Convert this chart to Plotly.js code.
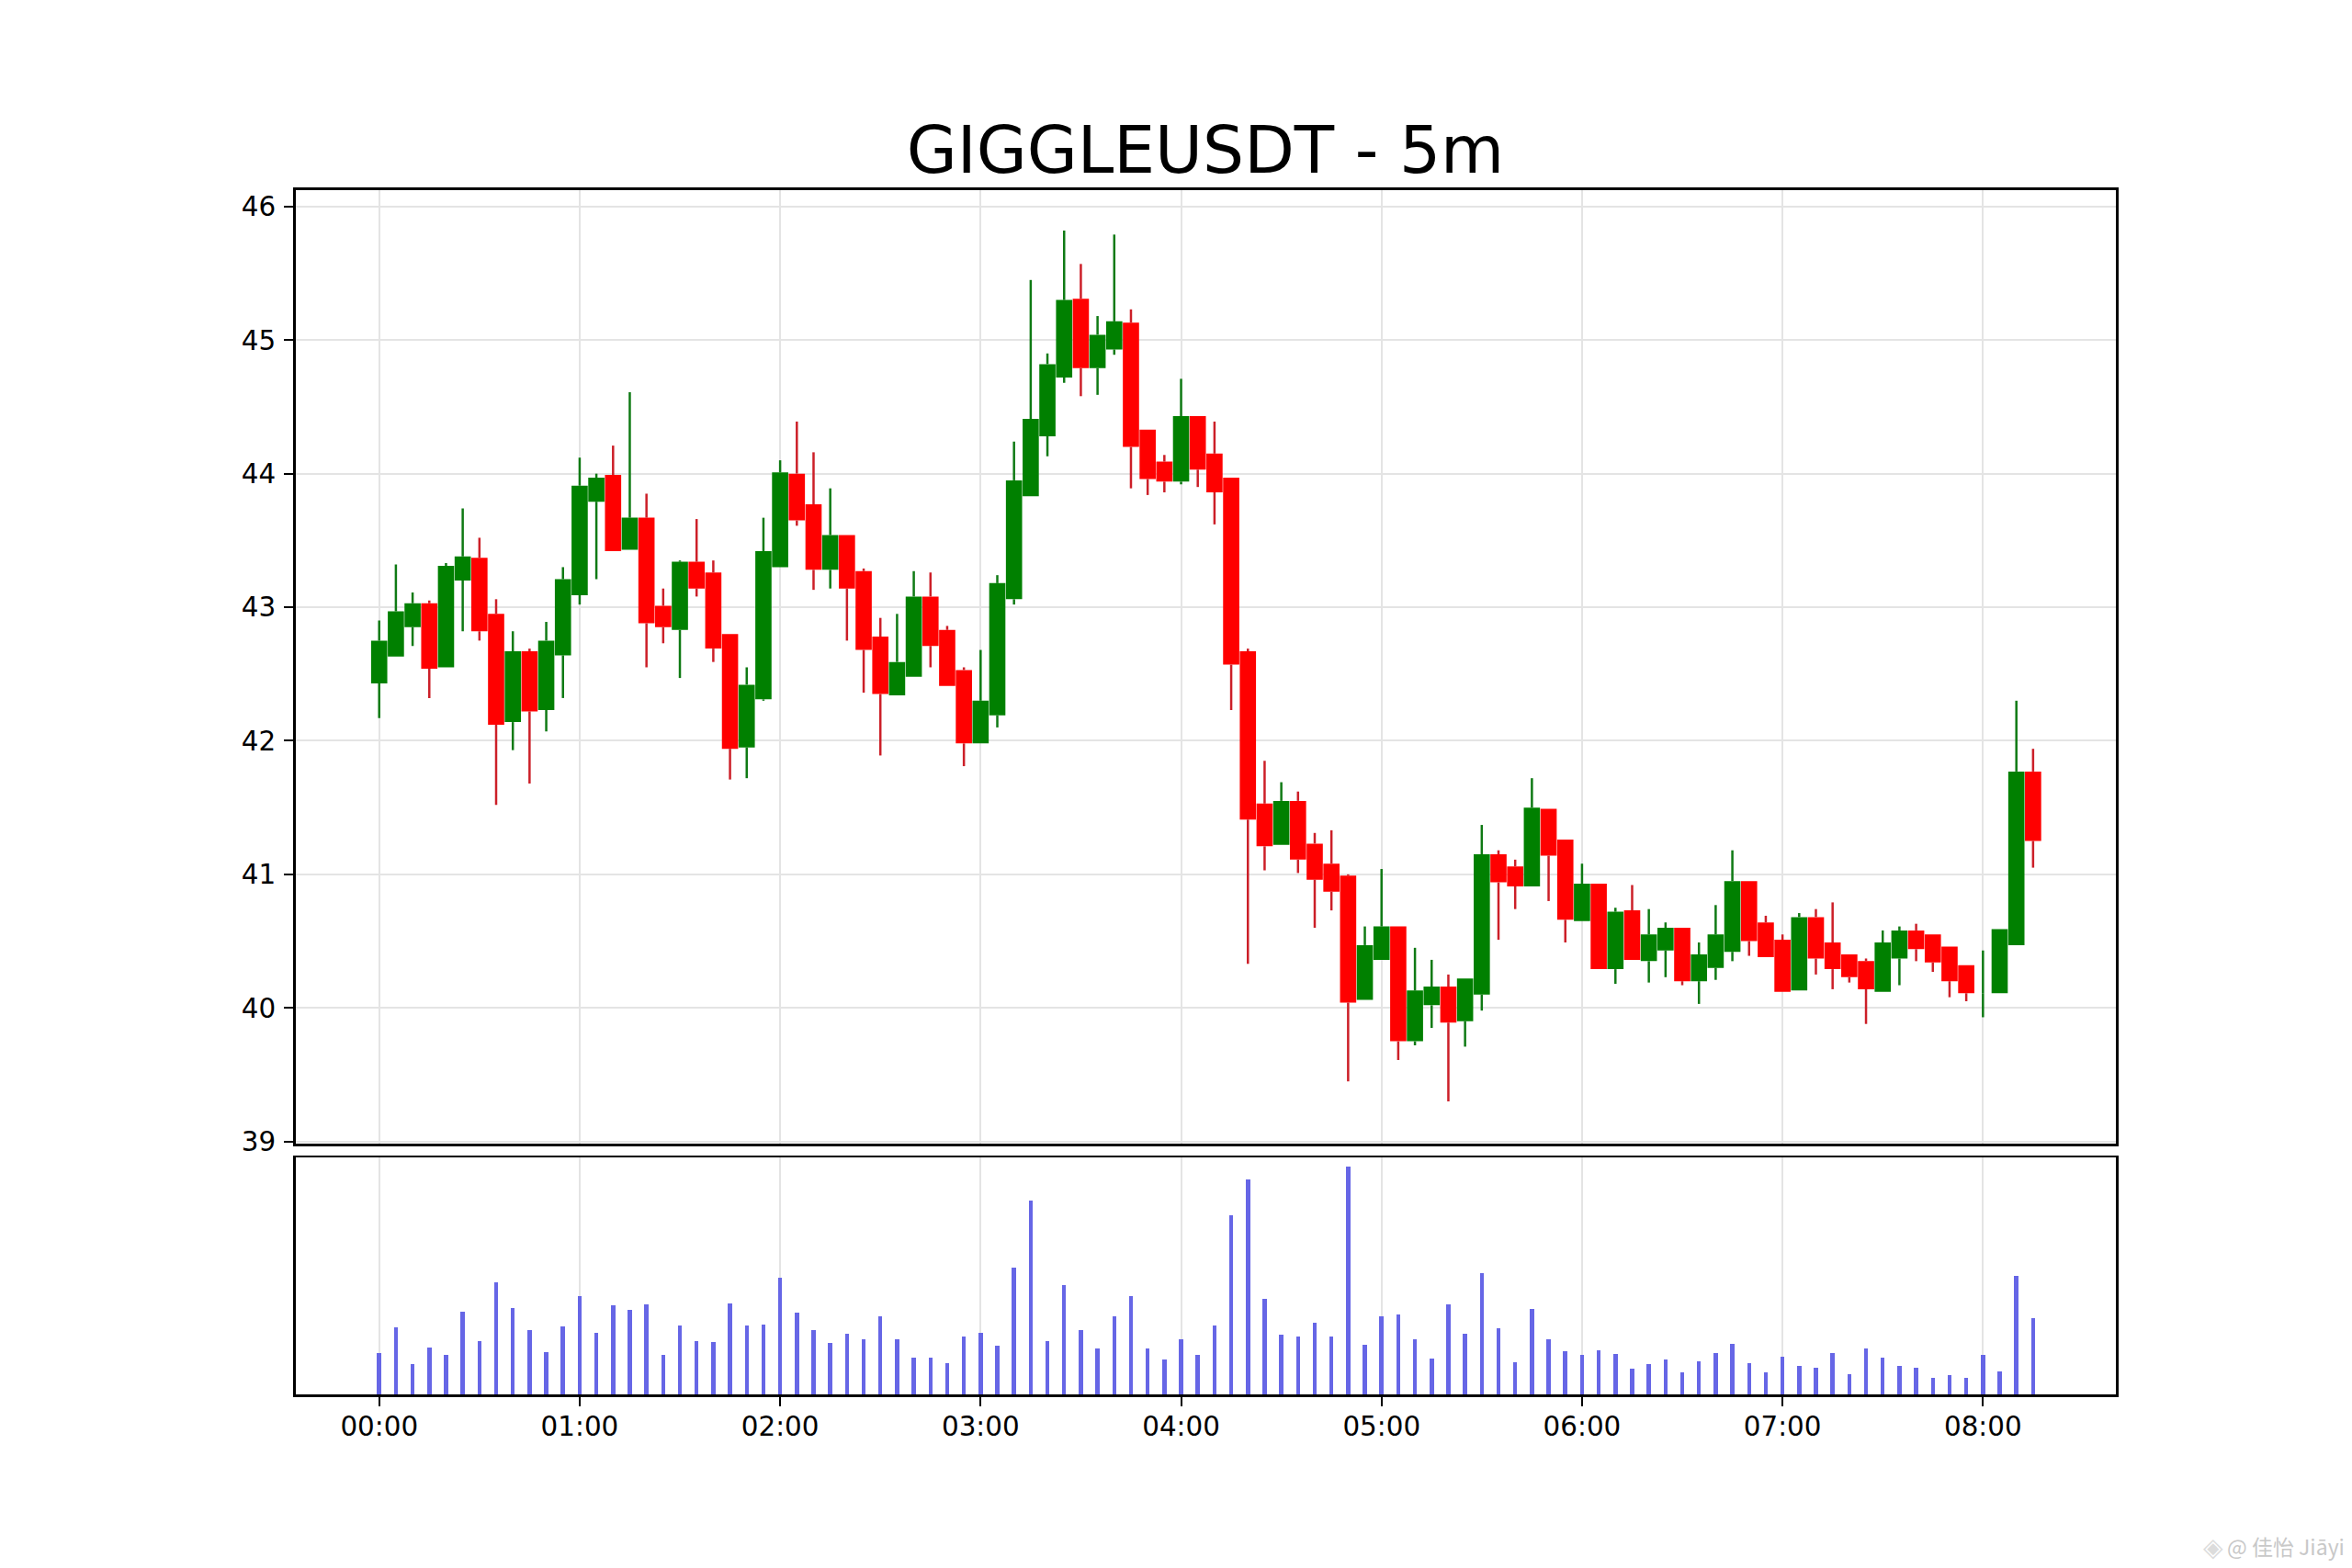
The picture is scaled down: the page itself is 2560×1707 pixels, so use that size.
<!DOCTYPE html>
<html>
<head>
<meta charset="utf-8">
<script src="https://cdn.plot.ly/plotly-3.0.1.min.js"></script>
<style>html,body{margin:0;padding:0;background:#fff}</style>
</head>
<body>
<div id="chart" style="width:2560px;height:1707px"></div>
<script>
const times = ["00:00","00:05","00:10","00:15","00:20","00:25","00:30","00:35","00:40","00:45","00:50","00:55",
"01:00","01:05","01:10","01:15","01:20","01:25","01:30","01:35","01:40","01:45","01:50","01:55",
"02:00","02:05","02:10","02:15","02:20","02:25","02:30","02:35","02:40","02:45","02:50","02:55",
"03:00","03:05","03:10","03:15","03:20","03:25","03:30","03:35","03:40","03:45","03:50","03:55",
"04:00","04:05","04:10","04:15","04:20","04:25","04:30","04:35","04:40","04:45","04:50","04:55",
"05:00","05:05","05:10","05:15","05:20","05:25","05:30","05:35","05:40","05:45","05:50","05:55",
"06:00","06:05","06:10","06:15","06:20","06:25","06:30","06:35","06:40","06:45","06:50","06:55",
"07:00","07:05","07:10","07:15","07:20","07:25","07:30","07:35","07:40","07:45","07:50","07:55",
"08:00","08:05","08:10","08:15"];
const opens = [42.43,42.63,42.85,43.03,42.55,43.20,43.37,42.95,42.14,42.67,42.23,42.64,
43.09,43.79,43.99,43.43,43.67,43.01,42.83,43.34,43.26,42.80,41.95,42.31,
43.30,44.00,43.77,43.28,43.54,43.27,42.78,42.34,42.48,43.08,42.83,42.53,
41.98,42.19,43.06,43.83,44.28,44.72,45.31,44.79,44.93,45.13,44.33,44.09,
43.94,44.43,44.15,43.97,42.67,41.53,41.22,41.55,41.23,41.08,40.99,40.06,
40.36,40.61,39.75,40.02,40.16,39.90,40.10,41.15,41.06,40.91,41.49,41.26,
40.65,40.93,40.29,40.73,40.35,40.43,40.60,40.20,40.30,40.42,40.95,40.64,
40.51,40.13,40.68,40.49,40.40,40.35,40.12,40.37,40.58,40.55,40.46,40.32,
40.11,40.11,40.47,41.77];
const highs = [42.90,43.32,43.11,43.05,43.33,43.74,43.52,43.06,42.82,42.69,42.89,43.30,
44.12,44.00,44.21,44.61,43.85,43.14,43.35,43.66,43.35,42.80,42.55,43.67,
44.10,44.39,44.16,43.89,43.54,43.29,42.92,42.95,43.27,43.26,42.86,42.55,
42.68,43.24,44.24,45.45,44.90,45.82,45.57,45.18,45.79,45.23,44.33,44.14,
44.71,44.43,44.39,43.97,42.69,41.85,41.69,41.62,41.31,41.33,41.00,40.61,
41.04,40.61,40.45,40.36,40.25,40.22,41.37,41.18,41.11,41.72,41.49,41.26,
41.08,40.93,40.75,40.92,40.74,40.64,40.60,40.49,40.77,41.18,40.95,40.69,
40.55,40.71,40.74,40.79,40.40,40.37,40.58,40.61,40.63,40.55,40.46,40.32,
40.43,40.59,42.30,41.94];
const lows = [42.17,42.63,42.71,42.32,42.55,42.82,42.75,41.52,41.93,41.68,42.07,42.32,
43.02,43.21,43.42,43.43,42.55,42.73,42.47,43.08,42.59,41.71,41.72,42.30,
43.30,43.61,43.13,43.14,42.75,42.36,41.89,42.34,42.48,42.55,42.41,41.81,
41.98,42.10,43.02,43.83,44.13,44.68,44.58,44.59,44.89,43.89,43.84,43.86,
43.92,43.90,43.62,42.23,40.33,41.03,41.22,41.01,40.60,40.73,39.45,40.06,
40.36,39.61,39.72,39.85,39.30,39.71,39.98,40.51,40.74,40.91,40.80,40.49,
40.65,40.29,40.18,40.36,40.19,40.23,40.17,40.03,40.21,40.35,40.39,40.38,
40.12,40.13,40.25,40.14,40.19,39.88,40.12,40.17,40.35,40.27,40.08,40.05,
39.93,40.11,40.47,41.05];
const closes = [42.75,42.97,43.03,42.54,43.31,43.38,42.82,42.12,42.67,42.22,42.75,43.21,
43.91,43.97,43.42,43.67,42.88,42.85,43.34,43.14,42.69,41.94,42.42,43.42,
44.01,43.65,43.28,43.54,43.14,42.68,42.35,42.59,43.08,42.71,42.41,41.98,
42.30,43.18,43.95,44.41,44.82,45.30,44.79,45.04,45.14,44.20,43.96,43.94,
44.43,44.03,43.86,42.57,41.41,41.21,41.55,41.11,40.96,40.87,40.04,40.47,
40.61,39.75,40.13,40.16,39.89,40.22,41.15,40.94,40.91,41.50,41.14,40.66,
40.93,40.29,40.72,40.36,40.55,40.60,40.20,40.40,40.55,40.95,40.50,40.38,
40.12,40.68,40.37,40.29,40.23,40.14,40.49,40.58,40.44,40.34,40.20,40.11,
40.11,40.59,41.77,41.25];
const volumes = [135,220,100,154,129,270,175,366,283,210,139,223,
321,202,292,276,295,130,226,174,172,298,226,229,
381,268,210,169,199,180,255,180,121,120,103,189,
202,159,415,634,175,357,211,150,255,321,151,115,
180,130,225,586,705,312,196,190,235,189,745,163,
256,261,181,118,295,199,397,216,106,280,181,142,
129,144,133,85,99,115,73,109,135,166,103,73,
124,94,88,135,67,151,121,94,88,53,62,55,
129,76,388,250];
const titleText = "GIGGLEUSDT - 5m";
const day = "2025-01-01 ";
const dates = times.map(t => day + t);

const W = 2560, H = 1707;
const font = '"DejaVu Sans", sans-serif';
const gridColor = "#e4e4e4";

// Wick segments: high to top of body, bottom of body to low.
function wickSegments(isMember) {
  const x = [], y = [];
  dates.forEach((d, i) => {
    if (!isMember(i)) return;
    const top = Math.max(opens[i], closes[i]), bottom = Math.min(opens[i], closes[i]);
    x.push(d, d, null, d, d, null);
    y.push(highs[i], top, null, bottom, lows[i], null);
  });
  return {x, y};
}
const isUp = i => closes[i] >= opens[i];
const upWicks = wickSegments(isUp);
const downWicks = wickSegments(i => !isUp(i));
const upWickTrace = {type: "scatter", mode: "lines", x: upWicks.x, y: upWicks.y, xaxis: "x", yaxis: "y",
  line: {color: "#0f7a14", width: 2.5}, connectgaps: false, showlegend: false, hoverinfo: "skip"};
const downWickTrace = {type: "scatter", mode: "lines", x: downWicks.x, y: downWicks.y, xaxis: "x", yaxis: "y",
  line: {color: "#cc1f28", width: 2.5}, connectgaps: false, showlegend: false, hoverinfo: "skip"};

const hasBody = i => closes[i] !== opens[i];
const bodyTrace = {
  type: "candlestick", x: dates,
  open: opens.map((o, i) => hasBody(i) ? o : null),
  high: opens.map((o, i) => hasBody(i) ? Math.max(o, closes[i]) : null),
  low: opens.map((o, i) => hasBody(i) ? Math.min(o, closes[i]) : null),
  close: closes.map((c, i) => hasBody(i) ? c : null),
  xaxis: "x", yaxis: "y", whiskerwidth: 0,
  increasing: {line: {color: "#008000", width: 0}, fillcolor: "#008000"},
  decreasing: {line: {color: "#ff0000", width: 0}, fillcolor: "#ff0000"},
  showlegend: false
};
const volumeTrace = {
  type: "bar", x: dates, y: volumes, xaxis: "x2", yaxis: "y2",
  width: 74000, marker: {color: "#6666e6", line: {width: 0}}, showlegend: false
};

const xRange = ["2024-12-31 23:34:55", "2025-01-01 08:39:47"];
const xDomain = [321.5 / W, 2303 / W];
const layout = {
  width: W, height: H, paper_bgcolor: "#fff", plot_bgcolor: "#fff",
  margin: {l: 0, r: 0, t: 0, b: 0, pad: 0}, showlegend: false, bargap: 0, boxgap: 0.03, boxgroupgap: 0,
  font: {family: font, color: "#000", size: 29.4},
  title: {text: titleText, font: {family: font, size: 71, color: "#000"},
    x: 1312 / W, xref: "paper", xanchor: "center", y: 1 - 163 / H, yanchor: "middle", yref: "paper"},
  xaxis: {type: "date", domain: xDomain, anchor: "y", range: xRange, dtick: 3600000,
    rangeslider: {visible: false}, showticklabels: false, ticks: "",
    showgrid: true, gridcolor: gridColor, gridwidth: 2, zeroline: false,
    showline: true, mirror: true, linecolor: "#000", linewidth: 2.5},
  yaxis: {domain: [1 - 1245 / H, 1 - 206.5 / H], anchor: "x", range: [38.984, 46.126], dtick: 1, tick0: 39,
    showgrid: true, gridcolor: gridColor, gridwidth: 2, zeroline: false,
    ticks: "outside", ticklen: 10, tickwidth: 2, tickcolor: "#000", ticklabelstandoff: 3,
    tickfont: {family: font, size: 29.4, color: "#000"},
    showline: true, mirror: true, linecolor: "#000", linewidth: 2.5},
  xaxis2: {type: "date", domain: xDomain, anchor: "y2", range: xRange, dtick: 3600000, tick0: "2025-01-01 00:00",
    tickformat: "%H:%M", ticks: "outside", ticklen: 10, tickwidth: 2, tickcolor: "#000", ticklabelstandoff: -3,
    tickfont: {family: font, size: 29.4, color: "#000"},
    showgrid: true, gridcolor: gridColor, gridwidth: 2, zeroline: false,
    showline: true, mirror: true, linecolor: "#000", linewidth: 2.5},
  yaxis2: {domain: [1 - 1518 / H, 1 - 1260 / H], anchor: "x2", range: [0, 776],
    showticklabels: false, ticks: "", showgrid: false, zeroline: false,
    showline: true, mirror: true, linecolor: "#000", linewidth: 2.5},
  annotations: [
    {text: "◈", xref: "paper", yref: "paper", x: 2409 / W, y: 1 - 1684 / H, xanchor: "center", yanchor: "middle",
      showarrow: false, font: {family: font, size: 28, color: "#dcdcdc"}},
    {text: "@ 佳怡 Jiāyi", xref: "paper", yref: "paper", x: 2554 / W, y: 1 - 1683 / H, xanchor: "right", yanchor: "middle",
      showarrow: false, font: {family: '"Noto Sans CJK SC", "DejaVu Sans", sans-serif', size: 23, color: "#c8c8c8"}}
  ]
};
Plotly.newPlot("chart", [bodyTrace, upWickTrace, downWickTrace, volumeTrace], layout, {displayModeBar: false, staticPlot: true});
</script>
</body>
</html>
